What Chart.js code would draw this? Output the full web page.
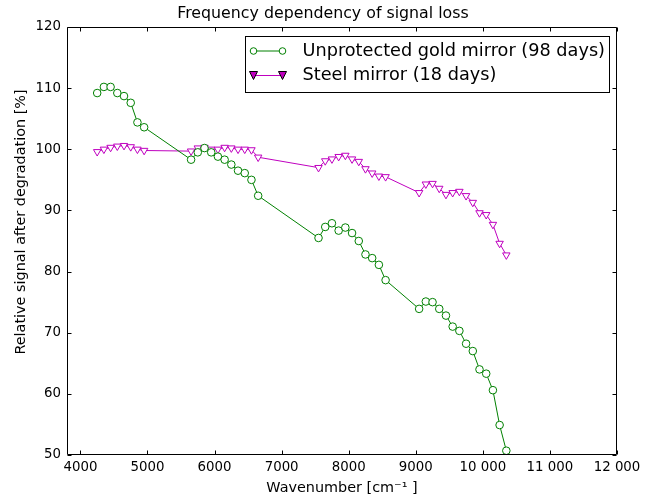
<!DOCTYPE html>
<html><head><meta charset="utf-8">
<script src="https://cdn.jsdelivr.net/npm/chart.js@4.4.0/dist/chart.umd.min.js"></script>
<style>html,body{margin:0;padding:0;background:#fff;}#wrap{width:651px;height:497px;position:relative;}</style>
</head><body><div id="wrap"><canvas id="c" width="651" height="497"></canvas></div>
<script>
const wavenumbers = [4250,4350,4450,4550,4650,4750,4850,4950,
  5650,5750,5850,5950,6050,6150,6250,6350,6450,6550,6650,
  7550,7650,7750,7850,7950,8050,8150,8250,8350,8450,8550,
  9050,9150,9250,9350,9450,9550,9650,9750,9850,9950,10050,10150,10250,10350];
const goldSignal = [109.2,110.2,110.2,109.2,108.7,107.6,104.4,103.6,
  98.3,99.5,100.2,99.5,98.8,98.3,97.5,96.5,96.1,95.0,92.4,
  85.5,87.3,87.9,86.7,87.2,86.3,85.0,82.8,82.2,81.1,78.6,
  73.9,75.1,75.0,73.9,72.8,71.0,70.3,68.2,67.0,64.0,63.3,60.6,54.9,50.7];
const steelSignal = [99.6,100.0,100.3,100.5,100.6,100.4,100.0,99.8,
  99.7,100.2,100.3,100.0,100.0,100.3,100.2,100.0,100.0,99.9,98.7,
  97.0,98.1,98.4,98.8,99.0,98.4,98.0,96.8,96.1,95.6,95.5,
  92.9,94.3,94.4,93.6,92.6,92.9,93.1,92.4,91.3,89.6,89.3,87.7,84.6,82.7];
const xTickValues = [4000,5000,6000,7000,8000,9000,10000,11000,12000];
const xTickLabels = ['4000','5000','6000','7000','8000','9000','10 000','11 000','12 000'];
const yTickValues = [50,60,70,80,90,100,110,120];
const seriesNames = ['Unprotected gold mirror (98 days)','Steel mirror (18 days)'];
const chartTitle = 'Frequency dependency of signal loss';
const xTitle = 'Wavenumber [cm⁻¹ ]';
const yTitle = 'Relative signal after degradation [%]';

const GREEN = '#008000', MAGENTA = '#bf00bf';
const FONT = 'DejaVu Sans';

const framePlugin = {
  id: 'frame',
  afterDraw(chart) {
    const ctx = chart.ctx, a = chart.chartArea;
    const xs = chart.scales.x, ys = chart.scales.y;
    ctx.save();
    ctx.strokeStyle = '#000';
    ctx.lineWidth = 1;
    const L = Math.round(a.left) + 0.5, R = Math.round(a.right) - 0.5;
    const T = Math.round(a.top) + 0.5, B = Math.round(a.bottom) - 0.5;
    ctx.beginPath();
    ctx.rect(L, T, R - L, B - T);
    ctx.stroke();
    ctx.beginPath();
    xTickValues.forEach(v => {
      const p = Math.round(xs.getPixelForValue(v)) + 0.5;
      ctx.moveTo(p, B); ctx.lineTo(p, B - 4);
      ctx.moveTo(p, T); ctx.lineTo(p, T + 4);
    });
    yTickValues.forEach(v => {
      const p = Math.round(ys.getPixelForValue(v)) + 0.5;
      ctx.moveTo(L, p); ctx.lineTo(L + 4, p);
      ctx.moveTo(R, p); ctx.lineTo(R - 4, p);
    });
    ctx.stroke();

    // title and y-axis label
    ctx.fillStyle = '#000';
    ctx.textBaseline = 'middle';
    ctx.textAlign = 'center';
    ctx.font = '15.8px "' + FONT + '"';
    ctx.fillText(chartTitle, 323, 14);
    ctx.save();
    ctx.translate(21, 222);
    ctx.rotate(-Math.PI / 2);
    ctx.font = '14.4px "' + FONT + '"';
    ctx.fillText(yTitle, 0, 0);
    ctx.restore();

    // legend
    const bw = 364, bh = 56;
    const bx = Math.round(a.right) - 8 - bw + 0.5, by = Math.round(a.top) + 9 + 0.5;
    ctx.fillStyle = '#fff';
    ctx.fillRect(bx, by, bw, bh);
    ctx.strokeStyle = '#000';
    ctx.strokeRect(bx, by, bw, bh);
    const rows = [by + 14.5, by + 39];
    const x1 = bx + 8, x2 = bx + 37;
    ctx.strokeStyle = GREEN;
    ctx.beginPath(); ctx.moveTo(x1, rows[0]); ctx.lineTo(x2, rows[0]); ctx.stroke();
    [x1, x2].forEach(x => {
      ctx.beginPath(); ctx.arc(x, rows[0], 3.3, 0, Math.PI * 2);
      ctx.fillStyle = '#fff'; ctx.fill(); ctx.stroke();
    });
    ctx.strokeStyle = MAGENTA;
    ctx.beginPath(); ctx.moveTo(x1, rows[1]); ctx.lineTo(x2, rows[1]); ctx.stroke();
    [x1, x2].forEach(x => {
      const r = 4;
      ctx.beginPath();
      ctx.moveTo(x - r, rows[1] - r);
      ctx.lineTo(x + r, rows[1] - r);
      ctx.lineTo(x, rows[1] + r);
      ctx.closePath();
      ctx.fillStyle = MAGENTA; ctx.fill();
      ctx.strokeStyle = '#000'; ctx.stroke();
    });
    ctx.fillStyle = '#000';
    ctx.font = '17.7px "' + FONT + '"';
    ctx.textBaseline = 'middle';
    ctx.textAlign = 'left';
    ctx.fillText(seriesNames[0], bx + 57, rows[0]);
    ctx.fillText(seriesNames[1], bx + 57, rows[1]);
    ctx.restore();
  }
};

const toPts = vals => wavenumbers.map((x, i) => ({x: x, y: vals[i]}));

new Chart(document.getElementById('c'), {
  type: 'line',
  data: {
    datasets: [
      {label: seriesNames[0], data: toPts(goldSignal), borderColor: GREEN, borderWidth: 1,
       pointStyle: 'circle', pointRadius: 3.8, pointBorderWidth: 1, pointBackgroundColor: '#fff',
       pointBorderColor: GREEN, tension: 0, clip: false},
      {label: seriesNames[1], data: toPts(steelSignal), borderColor: MAGENTA, borderWidth: 1,
       pointStyle: 'triangle', rotation: 180, pointRadius: 4.3, pointBorderWidth: 1, pointBackgroundColor: '#fff',
       pointBorderColor: MAGENTA, tension: 0, clip: false}
    ]
  },
  options: {
    responsive: false, animation: false, devicePixelRatio: 1,
    layout: {padding: {left: 0, right: 34, top: 27, bottom: 0}},
    plugins: {
      legend: {display: false},
      tooltip: {enabled: false},
      title: {display: false}
    },
    scales: {
      x: {type: 'linear', min: 3800, max: 12000,
        afterBuildTicks: s => { s.ticks = xTickValues.map(v => ({value: v})); },
        afterFit: s => { s.height = 42; },
        ticks: {callback: (v, i) => xTickLabels[i], maxRotation: 0, autoSkip: false, color: '#000',
          font: {family: FONT, size: 13.33}, padding: 5},
        grid: {display: false, drawTicks: false}, border: {display: false},
        title: {display: true, text: xTitle, color: '#000', font: {family: FONT, size: 14.4}, padding: {top: 0, bottom: 0}}
      },
      y: {type: 'linear', min: 50, max: 120,
        afterBuildTicks: s => { s.ticks = yTickValues.map(v => ({value: v})); },
        afterFit: s => { s.width = 67; },
        ticks: {color: '#000', font: {family: FONT, size: 13.33}, padding: 6},
        grid: {display: false, drawTicks: false}, border: {display: false},
        title: {display: false}
      }
    }
  },
  plugins: [framePlugin]
});
</script></body></html>
